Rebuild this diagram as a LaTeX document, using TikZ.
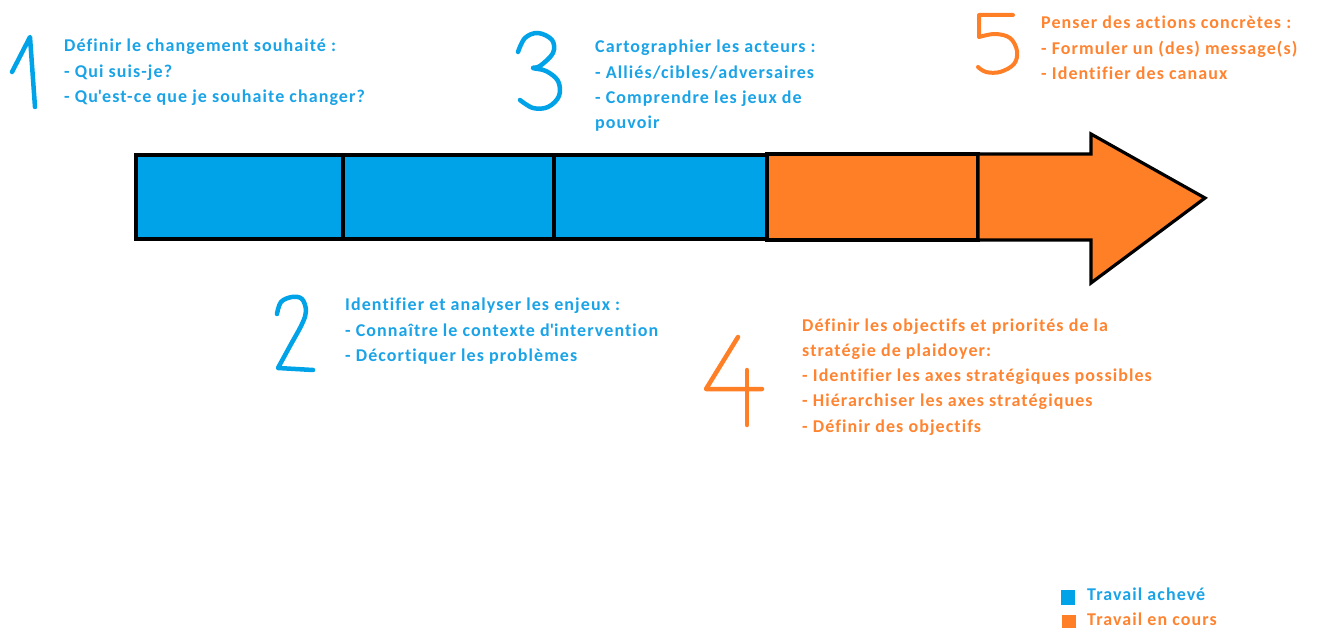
\documentclass[tikz,border=0pt]{standalone}
\usepackage{fontspec}
\setmainfont{Carlito}[LetterSpace=6, Ligatures={NoCommon}]
\definecolor{pblue}{HTML}{00A2E8}
\definecolor{porange}{HTML}{FF7F27}
\definecolor{tblue}{HTML}{1AA3E6}
\definecolor{torange}{HTML}{FF8431}
\newcommand{\blk}[1]{\begin{tabular}[t]{@{}l@{}}#1\end{tabular}}
\tikzset{
  seg/.style={draw=black, line width=3.2pt, line join=miter},
  txt/.style={anchor=base west, inner sep=0pt, font=\fontsize{18}{25.3}\selectfont\bfseries},
  digit/.style={line width=4.5pt, line cap=round, line join=round},
}
\begin{document}
\begin{tikzpicture}[x=1pt,y=-1pt]
\useasboundingbox (0,0) rectangle (1317,628);
% bar segments
\draw[seg, fill=pblue] (136,155) rectangle (343,239);
\draw[seg, fill=pblue] (343,155) rectangle (554,239);
\draw[seg, fill=pblue] (554,155) rectangle (767,239);
\draw[seg, fill=porange] (767,154) rectangle (978,240);
\draw[seg, fill=porange] (978,154) -- (1091,154) -- (1091,134) -- (1205,198) -- (1091,283) -- (1091,240) -- (978,240) -- cycle;
% digits
\draw[digit, pblue] (12,72) -- (30,37) -- (35,107);
\draw[digit, pblue] plot[smooth, tension=0.6] coordinates {(277,314) (281,302) (292,297) (302,299) (306,311) (302,324) (290,346) (278,368)} -- (313,370);
\draw[digit, pblue] plot[smooth, tension=0.6] coordinates {(518,52) (525,38) (538,33) (552,40) (553,53) (540,66) (533,68) (546,71) (558,81) (559,96) (548,107) (533,108) (520,100)};
\draw[digit, porange] (738,337) -- (706,389) -- (762,389);
\draw[digit, porange] (747,370) -- (747,425);
\draw[digit, porange, line width=4pt] (1013,15) -- (979,15) -- (979,37) plot[smooth, tension=0.6] coordinates {(979,37) (995,34) (1010,38) (1017,51) (1014,64) (1000,72) (986,72) (978,67)};
% texts
\node[txt, tblue] (t1) at (64,52) {\blk{Définir le changement souhaité :\\- Qui suis-je?\\- Qu\textquotesingle est-ce que je souhaite changer?}};
\node[txt, tblue] (t2) at (345,311) {\blk{Identifier et analyser les enjeux :\\- Connaître le contexte d\textquotesingle intervention\\- Décortiquer les problèmes}};
\node[txt, tblue] (t3) at (595,53) {\blk{Cartographier les acteurs :\\- Alliés/cibles/adversaires\\- Comprendre les jeux de\\pouvoir}};
\node[txt, torange] (t4) at (802,331) {\blk{Définir les objectifs et priorités de la\\stratégie de plaidoyer:\\- Identifier les axes stratégiques possibles\\- Hiérarchiser les axes stratégiques\\- Définir des objectifs}};
\node[txt, torange] (t5) at (1041,29) {\blk{Penser des actions concrètes :\\- Formuler un (des) message(s)\\- Identifier des canaux}};
% legend
\fill[pblue] (1061,590) rectangle (1075,605);
\fill[porange] (1062,615) rectangle (1076,630);
\node[txt, tblue] (l1) at (1087,600) {Travail achevé};
\node[txt, torange] (l2) at (1087,625) {Travail en cours};
\end{tikzpicture}
\end{document}
